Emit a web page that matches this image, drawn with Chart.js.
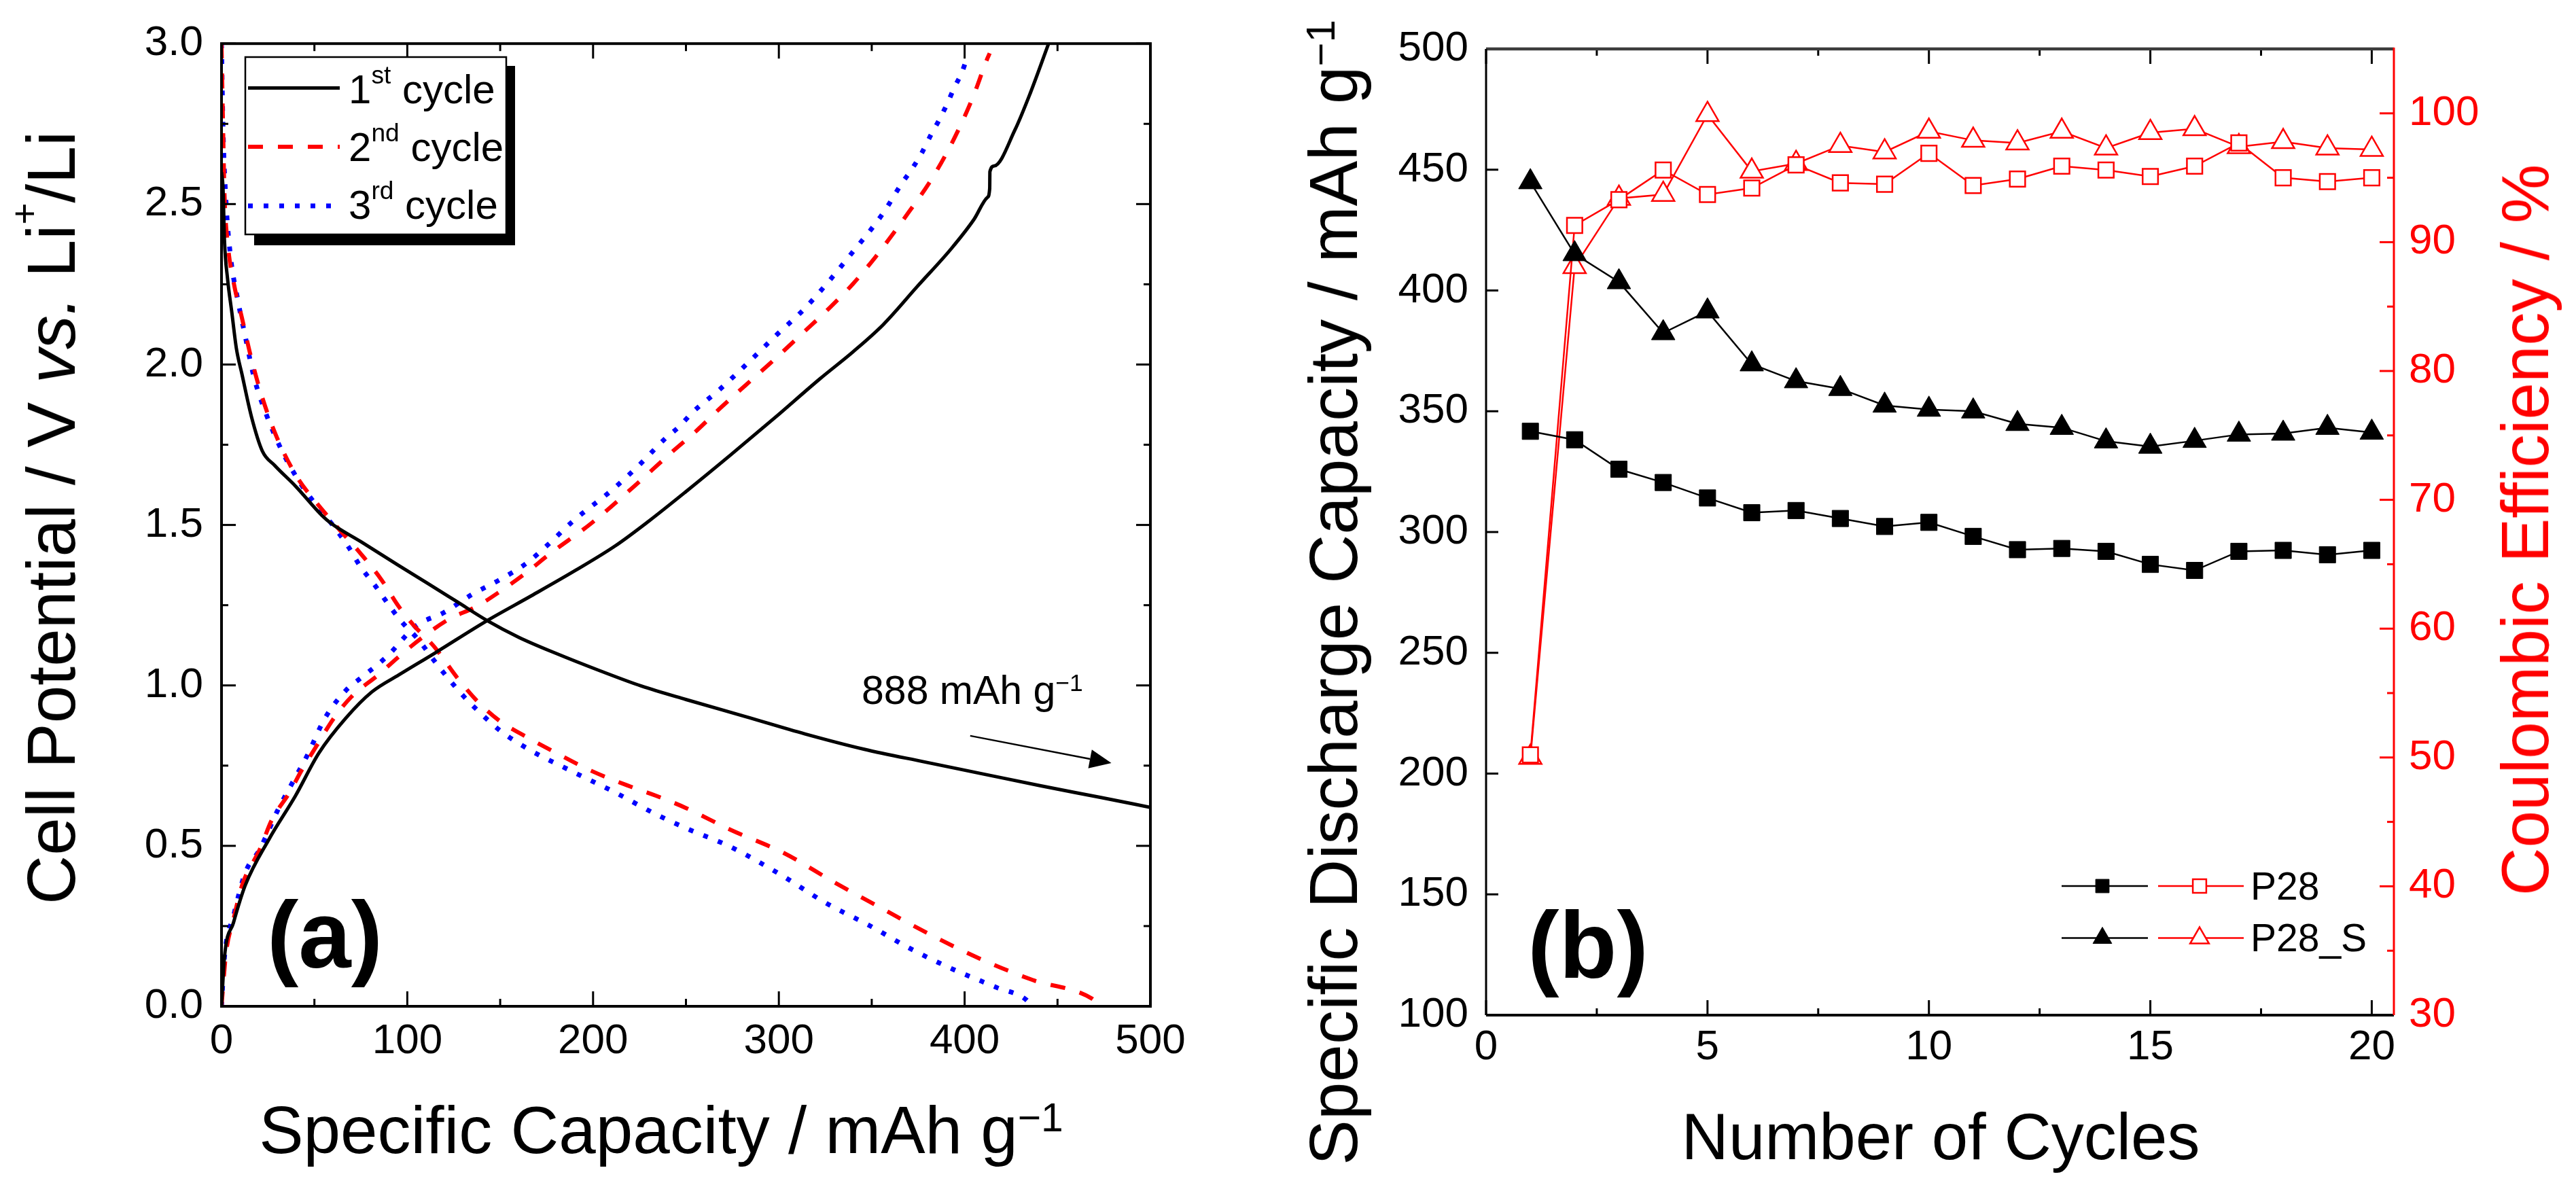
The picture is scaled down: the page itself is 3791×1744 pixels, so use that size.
<!DOCTYPE html>
<html><head><meta charset="utf-8">
<script src="https://cdn.jsdelivr.net/npm/chart.js@4.4.1/dist/chart.umd.min.js"></script>
<style>
html,body{margin:0;padding:0;background:#fff;}
body{width:3791px;height:1744px;position:relative;overflow:hidden;font-family:'Liberation Sans',Arial,sans-serif;}
canvas{position:absolute;top:0;}
#ca{left:0;} #cb{left:1895px;}
.t{position:absolute;white-space:nowrap;line-height:1;color:#000;}
.rot{transform:translate(-50%,-50%) rotate(-90deg);}
.cx{transform:translateX(-50%);}
sup{font-size:0.6em;vertical-align:baseline;position:relative;top:-0.55em;line-height:0;}
sup.lg{font-size:0.62em;top:-0.79em;}
sup.pl{font-size:0.55em;top:-1.0em;}
</style></head><body>
<canvas id="ca" width="1895" height="1744"></canvas>
<canvas id="cb" width="1896" height="1744"></canvas>

<div class="t rot" style="left:75px;top:762px;font-size:100px;">Cell Potential / V <i>vs.</i> Li<sup class="pl">+</sup>/Li</div>
<div class="t cx" style="left:973px;top:1614px;font-size:98px;">Specific Capacity / mAh g<sup>−1</sup></div>
<div class="t cx" style="left:478px;top:1306px;font-size:139px;font-weight:bold;">(a)</div>
<div class="t" style="left:1268px;top:987px;font-size:59px;">888 mAh g<sup>−1</sup></div>
<div class="t" style="left:513px;top:102px;font-size:60px;">1<sup class="lg">st</sup> cycle</div>
<div class="t" style="left:513px;top:187px;font-size:60px;">2<sup class="lg">nd</sup> cycle</div>
<div class="t" style="left:513px;top:272px;font-size:60px;">3<sup class="lg">rd</sup> cycle</div>

<div class="t rot" style="left:1962px;top:872px;font-size:100px;">Specific Discharge Capacity / mAh g<sup>−1</sup></div>
<div class="t rot" style="left:3716px;top:780px;font-size:98px;color:#ff0000;">Coulombic Efficiency / %</div>
<div class="t cx" style="left:2856px;top:1625px;font-size:96px;">Number of Cycles</div>
<div class="t cx" style="left:2337px;top:1321px;font-size:139px;font-weight:bold;">(b)</div>
<div class="t" style="left:3312px;top:1276px;font-size:57px;">P28</div>
<div class="t" style="left:3312px;top:1352px;font-size:57px;">P28_S</div>

<script>
// ---------------- Panel (a): charge/discharge profiles ----------------
const c1DisCap = [0, 0.8, 1.6, 3.2, 5.6, 8, 11, 16, 22, 28.7, 40, 54, 59, 75, 95, 111, 127, 143, 160, 180, 204, 226, 250, 282, 314, 346, 378, 410, 441, 473, 500];
const c1DisV   = [2.60, 2.55, 2.385, 2.27, 2.16, 2.05, 1.97, 1.84, 1.73, 1.685, 1.62, 1.53, 1.505, 1.448, 1.375, 1.318, 1.26, 1.202, 1.150, 1.100, 1.045, 0.998, 0.956, 0.903, 0.849, 0.801, 0.762, 0.724, 0.687, 0.651, 0.62];
const c1ChgCap = [0, 1.6, 6.4, 12.7, 25.5, 39.8, 52.5, 66.9, 81, 95.5, 114.6, 143, 167, 191, 212, 230, 250, 274, 298, 322, 340, 356.3, 374.5, 392.8, 405, 412.3, 413.5, 413.6, 416, 427, 435.5, 445.2];
const c1ChgV   = [0, 0.154, 0.26, 0.376, 0.52, 0.656, 0.79, 0.898, 0.98, 1.033, 1.10, 1.202, 1.280, 1.360, 1.435, 1.512, 1.604, 1.718, 1.835, 1.955, 2.04, 2.125, 2.243, 2.361, 2.452, 2.521, 2.549, 2.601, 2.619, 2.73, 2.848, 3.0];

const c2DisCap = [0, 0.8, 1.6, 3.2, 6.4, 11, 16, 22, 30, 41, 51, 60.5, 75, 86, 95.5, 103.5, 114.6, 127, 138.5, 150, 164, 180, 199, 220, 234, 250, 274, 302.6, 330, 357, 382, 409.5, 436.6, 468.5, 473];
const c2DisV   = [3.0, 2.75, 2.53, 2.385, 2.26, 2.145, 2.02, 1.896, 1.77, 1.646, 1.57, 1.505, 1.41, 1.33, 1.245, 1.187, 1.12, 1.023, 0.946, 0.888, 0.84, 0.79, 0.734, 0.685, 0.656, 0.618, 0.55, 0.478, 0.386, 0.30, 0.222, 0.145, 0.082, 0.024, 0.0];
const c2ChgCap = [0, 2.4, 6.4, 11, 20.7, 27, 36.6, 43, 51, 60.5, 70, 84.4, 95.5, 108, 122.6, 137, 150, 164, 176.7, 199, 222, 242, 255, 269, 282, 295, 311, 327, 340, 352, 360, 369.7, 380.6, 389.2, 397.7, 405, 411.7, 413.5];
const c2ChgV   = [0, 0.164, 0.27, 0.376, 0.49, 0.58, 0.666, 0.734, 0.81, 0.898, 0.965, 1.033, 1.09, 1.149, 1.207, 1.245, 1.293, 1.351, 1.41, 1.505, 1.62, 1.725, 1.79, 1.867, 1.935, 2.002, 2.088, 2.175, 2.252, 2.335, 2.396, 2.473, 2.563, 2.647, 2.744, 2.841, 2.946, 2.97];

const c3DisCap = [0, 0.8, 2.4, 4.8, 8.8, 12.7, 17.5, 24, 32.6, 43, 54, 59, 68.5, 74.8, 82.8, 92, 98.7, 105, 117.8, 130.5, 137, 150, 165.6, 188, 212, 234, 250, 274, 301, 325, 349, 371, 393.5, 417.5, 433.4, 436];
const c3DisV   = [3.0, 2.74, 2.51, 2.34, 2.20, 2.09, 1.96, 1.846, 1.73, 1.625, 1.54, 1.506, 1.43, 1.37, 1.31, 1.235, 1.187, 1.149, 1.052, 0.965, 0.927, 0.859, 0.80, 0.734, 0.666, 0.598, 0.555, 0.497, 0.41, 0.323, 0.251, 0.179, 0.116, 0.058, 0.019, 0.0];
const c3ChgCap = [0, 1.6, 6.4, 12.7, 20.7, 25.5, 30, 38, 46, 55.7, 67, 75, 89, 105, 119.4, 135, 150, 164, 176, 188, 194, 210, 224.5, 239, 247, 253, 267.7, 283.7, 298, 314, 327, 338, 356.3, 366, 371.5, 377, 381.9, 386.2, 390.4, 394.7, 398.3, 401.6];
const c3ChgV   = [0, 0.154, 0.28, 0.415, 0.49, 0.55, 0.608, 0.695, 0.78, 0.898, 0.985, 1.023, 1.09, 1.187, 1.226, 1.284, 1.33, 1.38, 1.44, 1.506, 1.535, 1.608, 1.685, 1.77, 1.81, 1.848, 1.92, 2.007, 2.088, 2.175, 2.26, 2.338, 2.473, 2.563, 2.608, 2.66, 2.716, 2.761, 2.81, 2.866, 2.907, 2.961];

const xTicksA = [0, 100, 200, 300, 400, 500];
const xMinorA = [50, 150, 250, 350, 450];
const yTicksA = [0, 0.5, 1, 1.5, 2, 2.5, 3];
const yTickLabelsA = ['0.0', '0.5', '1.0', '1.5', '2.0', '2.5', '3.0'];
const yMinorA = [0.25, 0.75, 1.25, 1.75, 2.25, 2.75];

// ---------------- Panel (b): cycling ----------------
const cycles = [1, 2, 3, 4, 5, 6, 7, 8, 9, 10, 11, 12, 13, 14, 15, 16, 17, 18, 19, 20];
const p28Discharge  = [341.7, 338.2, 326.0, 320.5, 314.1, 308.0, 308.9, 305.6, 302.3, 304.0, 298.2, 292.7, 293.2, 292.0, 286.6, 284.1, 292.0, 292.4, 290.6, 292.4];
const p28sDischarge = [444.9, 415.1, 403.5, 382.4, 391.4, 369.5, 362.5, 359.3, 352.4, 350.7, 350.0, 344.8, 343.2, 337.6, 335.4, 337.8, 340.4, 340.8, 343.2, 341.2];
const p28CE  = [50.2, 91.3, 93.3, 95.6, 93.7, 94.2, 96.0, 94.6, 94.5, 96.9, 94.4, 94.9, 95.9, 95.6, 95.1, 95.9, 97.7, 95.0, 94.7, 95.0];
const p28sCE = [50.0, 88.1, 93.4, 93.7, 99.9, 95.5, 96.1, 97.5, 97.0, 98.6, 97.9, 97.7, 98.6, 97.3, 98.5, 98.8, 97.4, 97.8, 97.3, 97.2];

const xTicksB = [0, 5, 10, 15, 20];
const xMinorB = [2.5, 7.5, 12.5, 17.5];
const yTicksB = [100, 150, 200, 250, 300, 350, 400, 450, 500];
const y2TicksB = [30, 40, 50, 60, 70, 80, 90, 100];
const y2MinorB = [35, 45, 55, 65, 75, 85, 95];

// ---------------- helpers ----------------
const RED = '#ff0000', BLUE = '#0000ff', BLACK = '#000000';
const pts = (xs, ys) => xs.map((x, i) => ({x: x, y: ys[i]}));
function seg(ctx, x1, y1, x2, y2) { ctx.beginPath(); ctx.moveTo(x1, y1); ctx.lineTo(x2, y2); ctx.stroke(); }
Chart.defaults.font.family = "'Liberation Sans', Arial, sans-serif";
Chart.defaults.color = '#000';

const styleA = [
  {color: BLACK, width: 5, dash: []},
  {color: RED, width: 6, dash: [22, 22]},
  {color: BLUE, width: 7, dash: [7, 16]}
];
function lineDs(data, st) {
  return {data: data, showLine: true, pointRadius: 0, borderColor: st.color, borderWidth: st.width,
    borderDash: st.dash, borderCapStyle: 'butt', borderJoinStyle: 'round', cubicInterpolationMode: 'monotone', fill: false};
}

const annotA = {arrowFrom: [403, 0.843], arrowTo: [479, 0.758]};

const frameA = {
  id: 'frameA',
  afterDraw(chart) {
    const {ctx, chartArea: a} = chart; const sx = chart.scales.x, sy = chart.scales.y;
    ctx.save();
    ctx.strokeStyle = BLACK; ctx.lineWidth = 3; ctx.setLineDash([]);
    xTicksA.forEach(v => { const p = sx.getPixelForValue(v); seg(ctx, p, a.bottom, p, a.bottom - 22); seg(ctx, p, a.top, p, a.top + 22); });
    xMinorA.forEach(v => { const p = sx.getPixelForValue(v); seg(ctx, p, a.bottom, p, a.bottom - 11); seg(ctx, p, a.top, p, a.top + 11); });
    yTicksA.forEach(v => { const p = sy.getPixelForValue(v); seg(ctx, a.left, p, a.left + 21, p); seg(ctx, a.right, p, a.right - 21, p); });
    yMinorA.forEach(v => { const p = sy.getPixelForValue(v); seg(ctx, a.left, p, a.left + 10, p); seg(ctx, a.right, p, a.right - 10, p); });
    ctx.lineWidth = 4; ctx.strokeRect(a.left, a.top, a.right - a.left, a.bottom - a.top);
    // arrow
    const x1 = sx.getPixelForValue(annotA.arrowFrom[0]), y1 = sy.getPixelForValue(annotA.arrowFrom[1]);
    const x2 = sx.getPixelForValue(annotA.arrowTo[0]), y2 = sy.getPixelForValue(annotA.arrowTo[1]);
    const ang = Math.atan2(y2 - y1, x2 - x1), hl = 32, hw = 14;
    const bx = x2 - hl * Math.cos(ang), by = y2 - hl * Math.sin(ang);
    ctx.lineWidth = 2.5; seg(ctx, x1, y1, bx, by);
    ctx.fillStyle = BLACK; ctx.beginPath(); ctx.moveTo(x2, y2);
    ctx.lineTo(bx + hw * Math.sin(ang), by - hw * Math.cos(ang));
    ctx.lineTo(bx - hw * Math.sin(ang), by + hw * Math.cos(ang));
    ctx.closePath(); ctx.fill();
    // legend box with shadow
    ctx.fillStyle = BLACK; ctx.fillRect(374, 97, 384, 264);
    ctx.fillStyle = '#fff'; ctx.fillRect(361, 84, 384, 261);
    ctx.lineWidth = 2.5; ctx.strokeStyle = BLACK; ctx.strokeRect(361, 84, 384, 261);
    const rows = [129.5, 216, 303];
    styleA.forEach((st, i) => { ctx.strokeStyle = st.color; ctx.lineWidth = st.width; ctx.setLineDash(st.dash); ctx.lineCap = 'butt'; seg(ctx, 365, rows[i], 500, rows[i]); });
    ctx.restore();
  }
};

new Chart(document.getElementById('ca'), {
  type: 'scatter',
  data: {datasets: [
    lineDs(pts(c1DisCap, c1DisV), styleA[0]), lineDs(pts(c1ChgCap, c1ChgV), styleA[0]),
    lineDs(pts(c2DisCap, c2DisV), styleA[1]), lineDs(pts(c2ChgCap, c2ChgV), styleA[1]),
    lineDs(pts(c3DisCap, c3DisV), styleA[2]), lineDs(pts(c3ChgCap, c3ChgV), styleA[2])
  ]},
  options: {
    responsive: false, animation: false, devicePixelRatio: 1,
    layout: {padding: {top: 44, right: 202, left: 0, bottom: 0}},
    plugins: {legend: {display: false}, tooltip: {enabled: false}},
    scales: {
      x: {type: 'linear', min: 0, max: 500,
        afterBuildTicks: s => { s.ticks = xTicksA.map(v => ({value: v})); },
        afterFit: s => { s.height = 263; },
        grid: {display: false, drawTicks: false}, border: {display: false},
        ticks: {font: {size: 62, lineHeight: 1.2}, color: BLACK, padding: 15, maxRotation: 0}},
      y: {type: 'linear', min: 0, max: 3,
        afterBuildTicks: s => { s.ticks = yTicksA.map(v => ({value: v})); },
        afterFit: s => { s.width = 326; },
        grid: {display: false, drawTicks: false}, border: {display: false},
        ticks: {font: {size: 62, lineHeight: 1.2}, color: BLACK, padding: 27, callback: (v, i) => yTickLabelsA[i]}}
    }
  },
  plugins: [frameA]
});

// ---------------- chart (b) ----------------
function marker(ctx, style, x, y, r) {
  ctx.beginPath();
  if (style === 'rect') { const s = Math.SQRT1_2 * r; ctx.rect(x - s, y - s, 2 * s, 2 * s); }
  else { ctx.moveTo(x, y - r); ctx.lineTo(x + r * Math.sin(2 * Math.PI / 3), y + r / 2); ctx.lineTo(x - r * Math.sin(2 * Math.PI / 3), y + r / 2); ctx.closePath(); }
  ctx.fill(); ctx.stroke();
}

const frameB = {
  id: 'frameB',
  afterDraw(chart) {
    const {ctx, chartArea: a} = chart; const sx = chart.scales.x, sy = chart.scales.y, sy2 = chart.scales.y2;
    ctx.save(); ctx.setLineDash([]);
    ctx.strokeStyle = BLACK; ctx.lineWidth = 3;
    xTicksB.forEach(v => { const p = sx.getPixelForValue(v); seg(ctx, p, a.bottom, p, a.bottom - 22); seg(ctx, p, a.top, p, a.top + 22); });
    xMinorB.forEach(v => { const p = sx.getPixelForValue(v); seg(ctx, p, a.bottom, p, a.bottom - 10); seg(ctx, p, a.top, p, a.top + 10); });
    yTicksB.forEach(v => { const p = sy.getPixelForValue(v); seg(ctx, a.left, p, a.left + 18, p); });
    ctx.strokeStyle = RED;
    y2TicksB.forEach(v => { const p = sy2.getPixelForValue(v); seg(ctx, a.right, p, a.right - 21, p); });
    y2MinorB.forEach(v => { const p = sy2.getPixelForValue(v); seg(ctx, a.right, p, a.right - 10, p); });
    // axes lines
    ctx.strokeStyle = '#3c3c3c'; ctx.lineWidth = 4.5; seg(ctx, a.left, a.top, a.right, a.top);
    ctx.strokeStyle = BLACK; ctx.lineWidth = 3; seg(ctx, a.left, a.top, a.left, a.bottom);
    ctx.lineWidth = 4; seg(ctx, a.left, a.bottom, a.right, a.bottom);
    ctx.strokeStyle = RED; ctx.lineWidth = 3; seg(ctx, a.right, a.top - 2, a.right, a.bottom);
    // legend samples
    const rows = [{y: 1304, st: 'rect', r: 14}, {y: 1380.5, st: 'triangle', r: 16}];
    rows.forEach(rw => {
      ctx.strokeStyle = BLACK; ctx.lineWidth = 2.5; seg(ctx, 1139, rw.y, 1266, rw.y);
      ctx.fillStyle = BLACK; ctx.lineWidth = 1; marker(ctx, rw.st, 1199, rw.y, rw.r);
      ctx.strokeStyle = RED; ctx.lineWidth = 2.5; seg(ctx, 1281, rw.y, 1407, rw.y);
      ctx.fillStyle = '#fff'; marker(ctx, rw.st, 1342, rw.y, rw.r);
    });
    ctx.restore();
  }
};

function ptDs(vals, axis, color, style, r, filled) {
  return {data: pts(cycles, vals), yAxisID: axis, showLine: true, borderColor: color, borderWidth: 2.5,
    pointStyle: style, pointRadius: r, pointBorderColor: color, pointBorderWidth: filled ? 1 : 2.5,
    pointBackgroundColor: filled ? color : '#ffffff', tension: 0, fill: false};
}

new Chart(document.getElementById('cb'), {
  type: 'scatter',
  data: {datasets: [
    ptDs(p28Discharge, 'y', BLACK, 'rect', 17, true),
    ptDs(p28sDischarge, 'y', BLACK, 'triangle', 20, true),
    ptDs(p28CE, 'y2', RED, 'rect', 16, false),
    ptDs(p28sCE, 'y2', RED, 'triangle', 19, false)
  ]},
  options: {
    responsive: false, animation: false, devicePixelRatio: 1,
    layout: {padding: {top: 72, right: 0, left: 0, bottom: 0}},
    plugins: {legend: {display: false}, tooltip: {enabled: false}},
    scales: {
      x: {type: 'linear', min: 0, max: 20.5,
        afterBuildTicks: s => { s.ticks = xTicksB.map(v => ({value: v})); },
        afterFit: s => { s.height = 250; },
        grid: {display: false, drawTicks: false}, border: {display: false},
        ticks: {font: {size: 62, lineHeight: 1.2}, color: BLACK, padding: 11, maxRotation: 0}},
      y: {type: 'linear', position: 'left', min: 100, max: 500,
        afterBuildTicks: s => { s.ticks = yTicksB.map(v => ({value: v})); },
        afterFit: s => { s.width = 292; },
        grid: {display: false, drawTicks: false}, border: {display: false},
        ticks: {font: {size: 62, lineHeight: 1.2}, color: BLACK, padding: 26}},
      y2: {type: 'linear', position: 'right', min: 30, max: 105,
        afterBuildTicks: s => { s.ticks = y2TicksB.map(v => ({value: v})); },
        afterFit: s => { s.width = 268; },
        grid: {display: false, drawTicks: false}, border: {display: false},
        ticks: {font: {size: 62, lineHeight: 1.2}, color: RED, padding: 22}}
    }
  },
  plugins: [frameB]
});
</script>
</body></html>
